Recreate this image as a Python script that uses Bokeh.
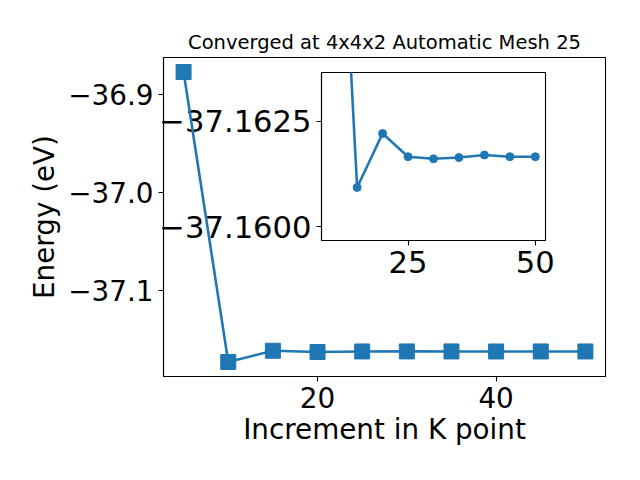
from bokeh.plotting import figure
from bokeh.models import Range1d, FixedTicker, CustomJSTickFormatter
from bokeh.embed import file_html
from bokeh.resources import INLINE

# ---- data ----
k_points = [5, 10, 15, 20, 25, 30, 35, 40, 45, 50]
energy = [-36.877, -37.1724, -37.16093, -37.16221, -37.16166,
          -37.16161, -37.16164, -37.16170, -37.16166, -37.16166]
inset_k = k_points[1:]
inset_energy = energy[1:]

main_xticks = [20, 40]
main_yticks = [-36.9, -37.0, -37.1]
inset_xticks = [25, 50]
inset_yticks = [-37.1625, -37.1600]
inset_ylim = (-37.15967, -37.16366)   # inverted: bottom, top

title_text = "Converged at 4x4x2 Automatic Mesh 25"
xlabel = "Increment in K point"
ylabel = "Energy (eV)"

BLUE = "#1f77b4"
FONT = "DejaVu Sans"
TICK_FS = "27.8px"
INSET_TICK_FS = "30.6px"


def pad(lo, hi, frac=0.05):
    s = hi - lo
    return lo - s * frac, hi + s * frac


def fmt(decimals):
    return CustomJSTickFormatter(args=dict(d=decimals), code="""
        const s = Math.abs(tick).toFixed(d);
        return (tick < 0 ? "\u2212" : "") + s;
    """)


def style_axes(p, tick_fs):
    for ax in (p.xaxis[0], p.yaxis[0]):
        ax.axis_line_color = "black"
        ax.axis_line_width = 1.1
        ax.major_tick_line_color = "black"
        ax.major_tick_line_width = 1.1
        ax.major_tick_out = 5
        ax.major_tick_in = 0
        ax.minor_tick_line_color = None
        ax.major_label_text_font = FONT
        ax.major_label_text_font_size = tick_fs
        ax.major_label_text_color = "black"
        ax.major_label_standoff = 5
        ax.axis_label_text_font = FONT
        ax.axis_label_text_font_size = TICK_FS
        ax.axis_label_text_font_style = "normal"
        ax.axis_label_text_color = "black"
    p.xgrid.visible = False
    p.ygrid.visible = False
    p.outline_line_color = "black"
    p.outline_line_alpha = 1.0
    p.outline_line_width = 1.1


# ---- main figure ----
MAIN_LEFT = 200
MAIN_TOP = 57
MAIN_FW, MAIN_FH = 442, 319
MAIN_RIGHT = 27
MAIN_BOTTOM = 96

x0, x1 = pad(min(k_points), max(k_points))
y0, y1 = pad(min(energy), max(energy))

p = figure(output_backend="svg", toolbar_location=None,
           width=MAIN_LEFT + MAIN_FW + MAIN_RIGHT,
           height=MAIN_TOP + MAIN_FH + MAIN_BOTTOM,
           min_border_left=MAIN_LEFT, min_border_right=MAIN_RIGHT,
           min_border_top=MAIN_TOP, min_border_bottom=MAIN_BOTTOM,
           x_range=Range1d(x0, x1), y_range=Range1d(y0, y1),
           title=title_text)
p.title.align = "center"
p.title.text_font = FONT
p.title.text_font_size = "19.5px"
p.title.text_font_style = "normal"
p.title.text_color = "black"
p.title.standoff = 7
p.line(k_points, energy, line_color=BLUE, line_width=2.6)
p.scatter(k_points, energy, marker="square", size=15,
          fill_color=BLUE, line_color=BLUE)
p.xaxis.ticker = FixedTicker(ticks=main_xticks)
p.yaxis.ticker = FixedTicker(ticks=main_yticks)
p.xaxis.formatter = fmt(0)
p.yaxis.formatter = fmt(1)
p.xaxis.axis_label = xlabel
p.yaxis.axis_label = ylabel
style_axes(p, TICK_FS)
p.xaxis.axis_label_standoff = 2
p.yaxis.axis_label_standoff = 4
p.border_fill_color = None
p.background_fill_color = None
p.styles = {"position": "absolute", "left": f"{163 - MAIN_LEFT}px",
            "top": "0px", "z-index": "2"}

# ---- inset ----
IN_LEFT, IN_TOP, IN_BOTTOM, IN_RIGHT = 185, 10, 55, 24
IN_FW, IN_FH = 224, 168
ix0, ix1 = pad(min(inset_k), max(inset_k))
ins = figure(output_backend="svg", toolbar_location=None,
             width=IN_LEFT + IN_FW + IN_RIGHT,
             height=IN_TOP + IN_FH + IN_BOTTOM,
             min_border_left=IN_LEFT, min_border_right=IN_RIGHT,
             min_border_top=IN_TOP, min_border_bottom=IN_BOTTOM,
             x_range=Range1d(ix0, ix1),
             y_range=Range1d(inset_ylim[0], inset_ylim[1]))
ins.line(inset_k, inset_energy, line_color=BLUE, line_width=2.6)
ins.scatter(inset_k, inset_energy, marker="circle", size=8,
            fill_color=BLUE, line_color=BLUE)
ins.xaxis.ticker = FixedTicker(ticks=inset_xticks)
ins.yaxis.ticker = FixedTicker(ticks=inset_yticks)
ins.xaxis.formatter = fmt(0)
ins.yaxis.formatter = fmt(4)
style_axes(ins, INSET_TICK_FS)
ins.border_fill_color = None
ins.border_fill_alpha = 0
ins.background_fill_color = "white"
ins.styles = {"position": "absolute", "left": f"{321 - IN_LEFT}px",
              "top": f"{72 - IN_TOP}px", "z-index": "1"}

open("out.html", "w").write(file_html([ins, p], INLINE))
